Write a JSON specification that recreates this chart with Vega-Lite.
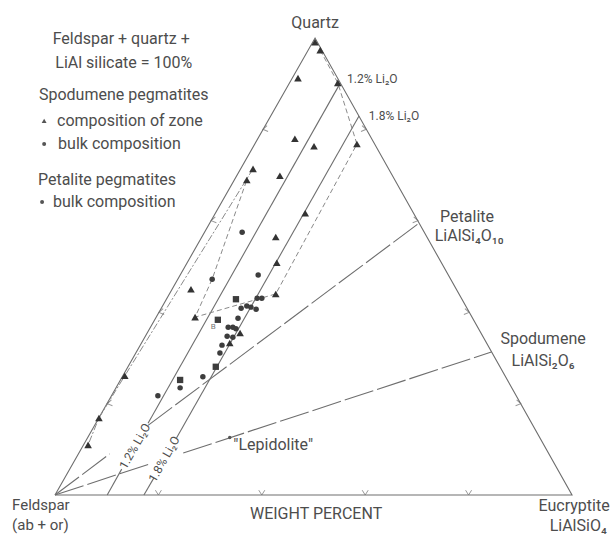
{
  "$schema": "https://vega.github.io/schema/vega-lite/v6.json",
  "width": 517,
  "height": 457,
  "autosize": {"type": "none"},
  "padding": {"left": 55, "top": 38, "right": 39, "bottom": 42},
  "background": "white",
  "config": {
    "view": {"stroke": null},
    "text": {"font": "Roboto", "color": "#4d4d4d"}
  },
  "datasets": {
    "lines": [
      {"kind": "solid", "id": "tri", "ord": 0, "x": 0, "y": 0},
      {"kind": "solid", "id": "tri", "ord": 1, "x": 50.3, "y": 86.6},
      {"kind": "solid", "id": "tri", "ord": 2, "x": 100, "y": 0},
      {"kind": "solid", "id": "tri", "ord": 3, "x": 0, "y": 0},
      {"kind": "solid", "id": "li12a", "ord": 0, "x": 10.1, "y": 0},
      {"kind": "solid", "id": "li12a", "ord": 1, "x": 12.9, "y": 4.9},
      {"kind": "solid", "id": "li12b", "ord": 0, "x": 18.0, "y": 13.6},
      {"kind": "solid", "id": "li12b", "ord": 1, "x": 55.2, "y": 78.1},
      {"kind": "solid", "id": "li18a", "ord": 0, "x": 17.2, "y": 0},
      {"kind": "solid", "id": "li18a", "ord": 1, "x": 19.1, "y": 3.2},
      {"kind": "solid", "id": "li18b", "ord": 0, "x": 23.5, "y": 10.8},
      {"kind": "solid", "id": "li18b", "ord": 1, "x": 58.8, "y": 71.8},
      {"kind": "long", "id": "fpA", "ord": 0, "x": 0, "y": 0},
      {"kind": "long", "id": "fpA", "ord": 1, "x": 10.6, "y": 7.8},
      {"kind": "long", "id": "fpB", "ord": 0, "x": 18.0, "y": 13.2},
      {"kind": "long", "id": "fpB", "ord": 1, "x": 70.4, "y": 51.5},
      {"kind": "long", "id": "fsA", "ord": 0, "x": 0, "y": 0},
      {"kind": "long", "id": "fsA", "ord": 1, "x": 18.4, "y": 5.9},
      {"kind": "long", "id": "fsB", "ord": 0, "x": 24.8, "y": 7.95},
      {"kind": "long", "id": "fsB", "ord": 1, "x": 84.4, "y": 27.1},
      {"kind": "dash", "id": "t1", "ord": 0, "x": 51.3, "y": 84.3},
      {"kind": "dash", "id": "t1", "ord": 1, "x": 54.7, "y": 78.1},
      {"kind": "dash", "id": "t1", "ord": 2, "x": 58.4, "y": 66.5},
      {"kind": "dash", "id": "t1", "ord": 3, "x": 42.7, "y": 38.1},
      {"kind": "dash", "id": "t1", "ord": 4, "x": 27.1, "y": 33.7},
      {"kind": "dash", "id": "t1", "ord": 5, "x": 30.4, "y": 40.9},
      {"kind": "dash", "id": "t1", "ord": 6, "x": 37.1, "y": 59.7},
      {"kind": "dashdot", "id": "t2", "ord": 0, "x": 38.3, "y": 61.8},
      {"kind": "dashdot", "id": "t2", "ord": 1, "x": 13.5, "y": 22.6},
      {"kind": "dashdot", "id": "t2", "ord": 2, "x": 8.5, "y": 14.6},
      {"kind": "dashdot", "id": "t2", "ord": 3, "x": 6.4, "y": 9.5}
    ],
    "ticks": [
      {"side": "bottom", "x": 20, "y": 0},
      {"side": "bottom", "x": 40, "y": 0},
      {"side": "bottom", "x": 60, "y": 0},
      {"side": "bottom", "x": 80, "y": 0},
      {"side": "right", "x": 60.2, "y": 69.3},
      {"side": "right", "x": 70.2, "y": 52.0},
      {"side": "right", "x": 80.1, "y": 34.6},
      {"side": "right", "x": 90.1, "y": 17.3},
      {"side": "left", "x": 40.2, "y": 69.3},
      {"side": "left", "x": 30.2, "y": 52.0},
      {"side": "left", "x": 20.1, "y": 34.6},
      {"side": "left", "x": 10.1, "y": 17.3}
    ],
    "points": [
      {"kind": "zone", "x": 50.3, "y": 85.8},
      {"kind": "zone", "x": 51.3, "y": 84.3},
      {"kind": "zone", "x": 47.0, "y": 79.0},
      {"kind": "zone", "x": 54.7, "y": 78.1},
      {"kind": "zone", "x": 46.4, "y": 67.5},
      {"kind": "zone", "x": 50.1, "y": 66.1},
      {"kind": "zone", "x": 58.4, "y": 66.5},
      {"kind": "zone", "x": 38.3, "y": 61.8},
      {"kind": "zone", "x": 37.1, "y": 59.7},
      {"kind": "zone", "x": 43.5, "y": 60.5},
      {"kind": "zone", "x": 48.4, "y": 53.4},
      {"kind": "zone", "x": 42.7, "y": 48.9},
      {"kind": "zone", "x": 42.9, "y": 44.0},
      {"kind": "zone", "x": 26.3, "y": 39.0},
      {"kind": "zone", "x": 42.7, "y": 38.1},
      {"kind": "zone", "x": 27.1, "y": 33.7},
      {"kind": "zone", "x": 35.8, "y": 30.7},
      {"kind": "zone", "x": 33.8, "y": 28.8},
      {"kind": "zone", "x": 13.5, "y": 22.6},
      {"kind": "zone", "x": 8.5, "y": 14.6},
      {"kind": "zone", "x": 6.4, "y": 9.5},
      {"kind": "bulk", "x": 36.2, "y": 49.8},
      {"kind": "bulk", "x": 39.3, "y": 41.7},
      {"kind": "bulk", "x": 30.4, "y": 40.9},
      {"kind": "bulk", "x": 39.1, "y": 37.3},
      {"kind": "bulk", "x": 40.0, "y": 37.3},
      {"kind": "bulk", "x": 36.0, "y": 35.4},
      {"kind": "bulk", "x": 37.1, "y": 35.8},
      {"kind": "bulk", "x": 37.9, "y": 35.6},
      {"kind": "bulk", "x": 38.9, "y": 35.2},
      {"kind": "bulk", "x": 35.4, "y": 33.5},
      {"kind": "bulk", "x": 33.5, "y": 31.8},
      {"kind": "bulk", "x": 34.4, "y": 31.8},
      {"kind": "bulk", "x": 35.0, "y": 31.5},
      {"kind": "bulk", "x": 33.3, "y": 30.1},
      {"kind": "bulk", "x": 34.4, "y": 29.9},
      {"kind": "bulk", "x": 32.3, "y": 28.4},
      {"kind": "bulk", "x": 31.9, "y": 26.9},
      {"kind": "bulk", "x": 28.6, "y": 22.4},
      {"kind": "bulk", "x": 24.2, "y": 20.3},
      {"kind": "bulk", "x": 19.9, "y": 18.8},
      {"kind": "petalite", "x": 35.0, "y": 37.1},
      {"kind": "petalite", "x": 31.5, "y": 33.2},
      {"kind": "petalite", "x": 31.1, "y": 24.3},
      {"kind": "petalite", "x": 24.2, "y": 21.8},
      {"kind": "lepid", "x": 33.8, "y": 10.9}
    ],
    "legendmarks": [
      {"kind": "zone", "x": -2.1, "y": 70.9},
      {"kind": "bulk", "x": -2.1, "y": 66.5},
      {"kind": "bulk", "x": -2.5, "y": 55.5}
    ],
    "bigcenter": [
      {"t": "Quartz", "x": 50.3, "y": 89.4},
      {"t": "Feldspar + quartz +", "x": 12.8, "y": 86.4},
      {"t": "LiAl silicate = 100%", "x": 13.3, "y": 81.9},
      {"t": "Petalite", "x": 79.7, "y": 52.7},
      {"t": "LiAlSi₄O₁₀", "x": 80.1, "y": 49.1},
      {"t": "Spodumene", "x": 94.4, "y": 29.6},
      {"t": "LiAlSi₂O₆", "x": 94.4, "y": 25.4},
      {"t": "\"Lepidolite\"", "x": 42.2, "y": 9.5},
      {"t": "WEIGHT PERCENT", "x": 50.5, "y": -3.6},
      {"t": "Eucryptite", "x": 100.4, "y": -2.1},
      {"t": "LiAlSiO₄", "x": 101.2, "y": -5.9}
    ],
    "bigleft": [
      {"t": "Spodumene pegmatites", "x": -3.1, "y": 75.8},
      {"t": "composition of zone", "x": 0.4, "y": 70.9},
      {"t": "bulk composition", "x": 0.6, "y": 66.5},
      {"t": "Petalite pegmatites", "x": -3.3, "y": 59.7},
      {"t": "bulk composition", "x": -0.4, "y": 55.5}
    ],
    "cornerleft": [
      {"t": "Feldspar", "x": -8.3, "y": -1.9},
      {"t": "(ab + or)", "x": -8.3, "y": -5.7}
    ],
    "smallleft": [
      {"t": "1.2% Li₂O", "x": 56.5, "y": 78.8},
      {"t": "1.8% Li₂O", "x": 60.7, "y": 71.8}
    ],
    "rotated": [
      {"t": "1.2% Li₂O", "x": 15.45, "y": 9.25},
      {"t": "1.8% Li₂O", "x": 21.1, "y": 6.8}
    ],
    "tiny": [
      {"t": "B", "x": 30.6, "y": 31.8}
    ]
  },
  "encoding": {
    "x": {"field": "x", "type": "quantitative", "scale": {"domain": [0, 100], "nice": false, "zero": false}, "axis": null},
    "y": {"field": "y", "type": "quantitative", "scale": {"domain": [0, 86.6], "nice": false, "zero": false}, "axis": null}
  },
  "layer": [
    {
      "data": {"name": "lines"},
      "transform": [{"filter": "datum.kind === 'solid'"}],
      "mark": {"type": "line", "stroke": "#6e6e6e", "strokeWidth": 1.1},
      "encoding": {"detail": {"field": "id"}, "order": {"field": "ord", "type": "quantitative"}}
    },
    {
      "data": {"name": "lines"},
      "transform": [{"filter": "datum.kind === 'long'"}],
      "mark": {"type": "line", "stroke": "#6e6e6e", "strokeWidth": 1.1, "strokeDash": [30, 4]},
      "encoding": {"detail": {"field": "id"}, "order": {"field": "ord", "type": "quantitative"}}
    },
    {
      "data": {"name": "lines"},
      "transform": [{"filter": "datum.kind === 'dash'"}],
      "mark": {"type": "line", "stroke": "#8a8a8a", "strokeWidth": 1, "strokeDash": [5, 3]},
      "encoding": {"detail": {"field": "id"}, "order": {"field": "ord", "type": "quantitative"}}
    },
    {
      "data": {"name": "lines"},
      "transform": [{"filter": "datum.kind === 'dashdot'"}],
      "mark": {"type": "line", "stroke": "#8a8a8a", "strokeWidth": 1, "strokeDash": [7, 2, 2, 2]},
      "encoding": {"detail": {"field": "id"}, "order": {"field": "ord", "type": "quantitative"}}
    },
    {
      "data": {"name": "ticks"},
      "transform": [{"filter": "datum.side === 'bottom'"}],
      "mark": {"type": "point", "shape": "M-1,-1.6L0,0L1,-1.6", "filled": false, "stroke": "#6e6e6e", "strokeWidth": 1, "size": 36}
    },
    {
      "data": {"name": "ticks"},
      "transform": [{"filter": "datum.side === 'left'"}],
      "mark": {"type": "point", "shape": "M-1,-1.6L0,0L1,-1.6", "filled": false, "stroke": "#6e6e6e", "strokeWidth": 1, "size": 36, "angle": 80}
    },
    {
      "data": {"name": "ticks"},
      "transform": [{"filter": "datum.side === 'right'"}],
      "mark": {"type": "point", "shape": "M-1,-1.6L0,0L1,-1.6", "filled": false, "stroke": "#6e6e6e", "strokeWidth": 1, "size": 36, "angle": 280}
    },
    {
      "data": {"name": "points"},
      "transform": [{"filter": "datum.kind === 'zone'"}],
      "mark": {"type": "point", "shape": "triangle-up", "filled": true, "color": "#333333", "size": 58, "opacity": 1}
    },
    {
      "data": {"name": "points"},
      "transform": [{"filter": "datum.kind === 'bulk'"}],
      "mark": {"type": "point", "shape": "circle", "filled": true, "color": "#3d3d3d", "size": 30, "opacity": 1}
    },
    {
      "data": {"name": "points"},
      "transform": [{"filter": "datum.kind === 'petalite'"}],
      "mark": {"type": "point", "shape": "square", "filled": true, "color": "#3d3d3d", "size": 40, "opacity": 1}
    },
    {
      "data": {"name": "points"},
      "transform": [{"filter": "datum.kind === 'lepid'"}],
      "mark": {"type": "point", "shape": "circle", "filled": true, "color": "#555555", "size": 12, "opacity": 1}
    },
    {
      "data": {"name": "legendmarks"},
      "transform": [{"filter": "datum.kind === 'zone'"}],
      "mark": {"type": "point", "shape": "triangle-up", "filled": true, "color": "#555555", "size": 24, "opacity": 1}
    },
    {
      "data": {"name": "legendmarks"},
      "transform": [{"filter": "datum.kind === 'bulk'"}],
      "mark": {"type": "point", "shape": "circle", "filled": true, "color": "#555555", "size": 16, "opacity": 1}
    },
    {
      "data": {"name": "bigcenter"},
      "mark": {"type": "text", "fontSize": 16, "align": "center", "baseline": "middle"},
      "encoding": {"text": {"field": "t"}}
    },
    {
      "data": {"name": "bigleft"},
      "mark": {"type": "text", "fontSize": 16, "align": "left", "baseline": "middle"},
      "encoding": {"text": {"field": "t"}}
    },
    {
      "data": {"name": "cornerleft"},
      "mark": {"type": "text", "fontSize": 15, "align": "left", "baseline": "middle"},
      "encoding": {"text": {"field": "t"}}
    },
    {
      "data": {"name": "smallleft"},
      "mark": {"type": "text", "fontSize": 12, "align": "left", "baseline": "middle"},
      "encoding": {"text": {"field": "t"}}
    },
    {
      "data": {"name": "rotated"},
      "mark": {"type": "text", "fontSize": 12, "align": "center", "baseline": "middle", "angle": 299.5},
      "encoding": {"text": {"field": "t"}}
    },
    {
      "data": {"name": "tiny"},
      "mark": {"type": "text", "fontSize": 8, "align": "center", "baseline": "middle", "color": "#777777"},
      "encoding": {"text": {"field": "t"}}
    }
  ]
}
